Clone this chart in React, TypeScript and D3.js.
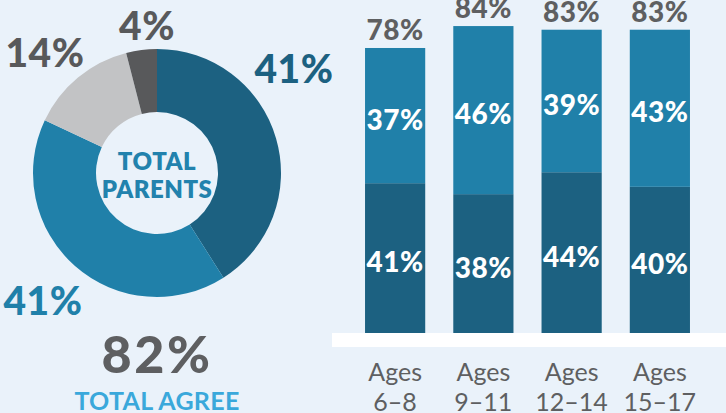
import React from "react";
import * as d3 from "d3";

const donutLabels = ["Agree strongly", "Agree somewhat", "Disagree", "Don't know"];
const donutValues = [41, 41, 14, 4];
const donutColors = ["#1c6181", "#2080a9", "#c2c3c5", "#58595b"];
const donutTextColors = ["#1c6181", "#2080a9", "#58595b", "#58595b"];
const donutLabelPos: [number, number][] = [[294, 83], [43, 315], [45, 67], [147, 40]];

const categories = ["6–8", "9–11", "12–14", "15–17"];
const strongly = [41, 38, 44, 40];
const somewhat = [37, 46, 39, 43];
const totals = [78, 84, 83, 83];

const W = 726, H = 413;
const BG = "#eaf2fa";
const GRAY = "#5e5f61";
const FONT = "Lato, 'Open Sans', sans-serif";

export default function App() {
  const cx = 157, cy = 173;
  const pie = d3.pie<number>().sort(null).value(d => d)(donutValues);
  const arc = d3.arc<d3.PieArcDatum<number>>().innerRadius(61).outerRadius(124);

  const x = d3.scaleBand<string>().domain(categories).range([351, 704]).paddingInner(0.318).paddingOuter(0.159);
  const y = d3.scaleLinear().domain([0, 100]).range([333, 333 - 365.4]);

  return (
    <svg width={W} height={H} style={{ position: "absolute", left: 0, top: 0 }} fontFamily={FONT}>
      <rect width={W} height={H} fill={BG} />
      <g transform={`translate(${cx},${cy})`}>
        {pie.map((p, i) => (
          <path key={i} d={arc(p) || ""} fill={donutColors[i]} />
        ))}
        <text textAnchor="middle" y={-3} fontSize={24} fontWeight={800} fill="#2282ad" letterSpacing={0.5}>TOTAL</text>
        <text textAnchor="middle" y={25} fontSize={24} fontWeight={800} fill="#2282ad" letterSpacing={0.5}>PARENTS</text>
      </g>
      {donutValues.map((v, i) => (
        <text key={i} x={donutLabelPos[i][0]} y={donutLabelPos[i][1]} textAnchor="middle" fontSize={39} fontWeight={900} fill={donutTextColors[i]} letterSpacing={0.5}>{v}%</text>
      ))}
      <text x={cx} y={373} textAnchor="middle" fontSize={52} fontWeight={900} fill={GRAY} letterSpacing={2.5}>{d3.sum(donutValues.slice(0, 2))}%</text>
      <text x={cx} y={410} textAnchor="middle" fontSize={25} fontWeight={700} fill="#3aa8db" letterSpacing={0.3}>TOTAL AGREE</text>

      {categories.map((c, i) => {
        const bx = x(c)!;
        const bw = x.bandwidth();
        const yS = y(strongly[i]);
        const yT = y(strongly[i] + somewhat[i]);
        return (
          <g key={c}>
            <rect x={bx} y={yS} width={bw} height={y(0) - yS} fill="#1c6181" />
            <rect x={bx} y={yT} width={bw} height={yS - yT} fill="#2080a9" />
            <text x={bx + bw / 2} y={(y(0) + yS) / 2 + 14} textAnchor="middle" fontSize={28} fontWeight={900} fill="#fff" letterSpacing={0.5}>{strongly[i]}%</text>
            <text x={bx + bw / 2} y={(yS + yT) / 2 + 14} textAnchor="middle" fontSize={28} fontWeight={900} fill="#fff" letterSpacing={0.5}>{somewhat[i]}%</text>
            <text x={bx + bw / 2} y={y(totals[i]) - 8} textAnchor="middle" fontSize={28} fontWeight={900} fill={GRAY} letterSpacing={0.5}>{totals[i]}%</text>
            <text x={bx + bw / 2} y={381} textAnchor="middle" fontSize={25} fontWeight={400} fill={GRAY}>Ages</text>
            <text x={bx + bw / 2} y={411} textAnchor="middle" fontSize={25} fontWeight={400} fill={GRAY}>{c}</text>
          </g>
        );
      })}
      <rect x={332} y={333} width={W - 332} height={14} fill="#ffffff" />
    </svg>
  );
}
